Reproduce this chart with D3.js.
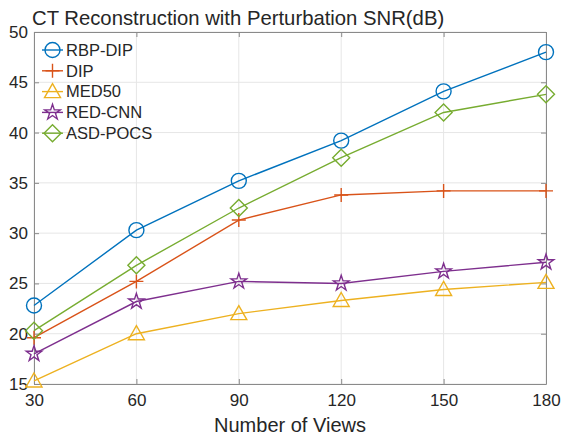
<!DOCTYPE html>
<html lang="en">
<head>
  <meta charset="UTF-8">
  <title>CT Reconstruction with Perturbation SNR(dB)</title>
  <script src="https://d3js.org/d3.v7.min.js"></script>
  <style>
    body { margin: 0; padding: 0; background: #fff; }
    svg { font-family: Arial, "Liberation Sans", sans-serif; }
  </style>
</head>
<body>
  <svg id="chart" width="565" height="437"></svg>
  <script>
    // data
    const views = [30, 60, 90, 120, 150, 180];
    const rbpDip = [22.8, 30.3, 35.2, 39.2, 44.1, 48.0];
    const dip = [19.6, 25.2, 31.3, 33.8, 34.2, 34.2];
    const med50 = [15.3, 20.0, 22.0, 23.3, 24.4, 25.1];
    const redCnn = [18.0, 23.2, 25.2, 25.0, 26.2, 27.1];
    const asdPocs = [20.3, 26.8, 32.5, 37.5, 42.0, 43.8];
    const yTicks = [15, 20, 25, 30, 35, 40, 45, 50];

    const series = [
      { name: "RBP-DIP", values: rbpDip, color: "#0072BD", marker: "circle" },
      { name: "DIP", values: dip, color: "#D95319", marker: "plus" },
      { name: "MED50", values: med50, color: "#EDB120", marker: "triangle" },
      { name: "RED-CNN", values: redCnn, color: "#7E2F8E", marker: "star" },
      { name: "ASD-POCS", values: asdPocs, color: "#77AC30", marker: "diamond" }
    ];

    const svg = d3.select("#chart");
    const margin = { left: 34, right: 19, top: 32, bottom: 53 };
    const W = 565, H = 437;

    const x = d3.scaleLinear().domain([30, 180]).range([margin.left, W - margin.right]);
    const y = d3.scaleLinear().domain([15, 50]).range([H - margin.bottom, margin.top]);

    const axisColor = "#262626";

    // grid
    svg.append("g").selectAll("line").data(views).join("line")
      .attr("x1", d => x(d)).attr("x2", d => x(d))
      .attr("y1", y(15)).attr("y2", y(50))
      .attr("stroke", "#e6e6e6").attr("stroke-width", 1);
    svg.append("g").selectAll("line").data(yTicks).join("line")
      .attr("x1", x(30)).attr("x2", x(180))
      .attr("y1", d => y(d)).attr("y2", d => y(d))
      .attr("stroke", "#e6e6e6").attr("stroke-width", 1);

    // axes
    const xAxis = d3.axisBottom(x).tickValues(views).tickSizeInner(-5).tickSizeOuter(0).tickPadding(10);
    const yAxis = d3.axisLeft(y).tickValues(yTicks).tickSizeInner(-5).tickSizeOuter(0).tickPadding(6);

    const gx = svg.append("g").attr("transform", `translate(0,${y(15)})`).call(xAxis);
    const gy = svg.append("g").attr("transform", `translate(${x(30)},0)`).call(yAxis);
    // top and right box with inward ticks
    const gxt = svg.append("g").attr("transform", `translate(0,${y(50)})`)
      .call(d3.axisTop(x).tickValues(views).tickSizeInner(-5).tickSizeOuter(0).tickFormat(""));
    const gyr = svg.append("g").attr("transform", `translate(${x(180)},0)`)
      .call(d3.axisRight(y).tickValues(yTicks).tickSizeInner(-5).tickSizeOuter(0).tickFormat(""));

    [gx, gy, gxt, gyr].forEach(g => {
      g.select(".domain").attr("stroke", "#8a8a8a").attr("stroke-width", 1);
      g.selectAll(".tick line").attr("stroke", "#8a8a8a");
      g.selectAll(".tick text").attr("fill", axisColor).style("font-size", "17px");
    });

    // markers
    function drawMarker(g, type, color) {
      if (type === "circle") {
        g.append("circle").attr("r", 7.5).attr("fill", "none").attr("stroke", color).attr("stroke-width", 1.4);
      } else if (type === "plus") {
        g.append("path").attr("d", "M-7,0H7M0,-7V7").attr("stroke", color).attr("stroke-width", 1.4).attr("fill", "none");
      } else if (type === "triangle") {
        g.append("path").attr("d", "M0,-8L8,6L-8,6Z").attr("fill", "none").attr("stroke", color).attr("stroke-width", 1.4);
      } else if (type === "diamond") {
        g.append("path").attr("d", "M0,-8.5L8.5,0L0,8.5L-8.5,0Z").attr("fill", "none").attr("stroke", color).attr("stroke-width", 1.4);
      } else if (type === "star") {
        g.append("path")
          .attr("d", d3.symbol(d3.symbolStar, 75)())
          .attr("fill", "none").attr("stroke", color).attr("stroke-width", 1.4);
      }
    }

    const line = d3.line().x((d, i) => x(views[i])).y(d => y(d));

    series.forEach(s => {
      svg.append("path").datum(s.values)
        .attr("d", line)
        .attr("fill", "none")
        .attr("stroke", s.color)
        .attr("stroke-width", 1.4);
      s.values.forEach((v, i) => {
        const g = svg.append("g").attr("transform", `translate(${x(views[i])},${y(v)})`);
        drawMarker(g, s.marker, s.color);
      });
    });

    // legend
    const legend = svg.append("g");
    series.forEach((s, i) => {
      const ly = 50 + i * 20.8;
      const row = legend.append("g").attr("transform", `translate(0,${ly})`);
      row.append("line").attr("x1", 42).attr("x2", 63).attr("y1", 0).attr("y2", 0)
        .attr("stroke", s.color).attr("stroke-width", 1.4);
      const mg = row.append("g").attr("transform", "translate(52.5,0)");
      drawMarker(mg, s.marker, s.color);
      row.append("text").attr("x", 66).attr("y", 0).attr("dy", "0.35em")
        .attr("fill", axisColor).style("font-size", "16.5px").text(s.name);
    });

    // title
    svg.append("text").attr("x", 32).attr("y", 25)
      .attr("fill", axisColor).style("font-size", "20.3px")
      .text("CT Reconstruction with Perturbation SNR(dB)");

    // x label
    svg.append("text").attr("x", (x(30) + x(180)) / 2).attr("y", 432)
      .attr("text-anchor", "middle")
      .attr("fill", axisColor).style("font-size", "20px")
      .text("Number of Views");
  </script>
</body>
</html>
